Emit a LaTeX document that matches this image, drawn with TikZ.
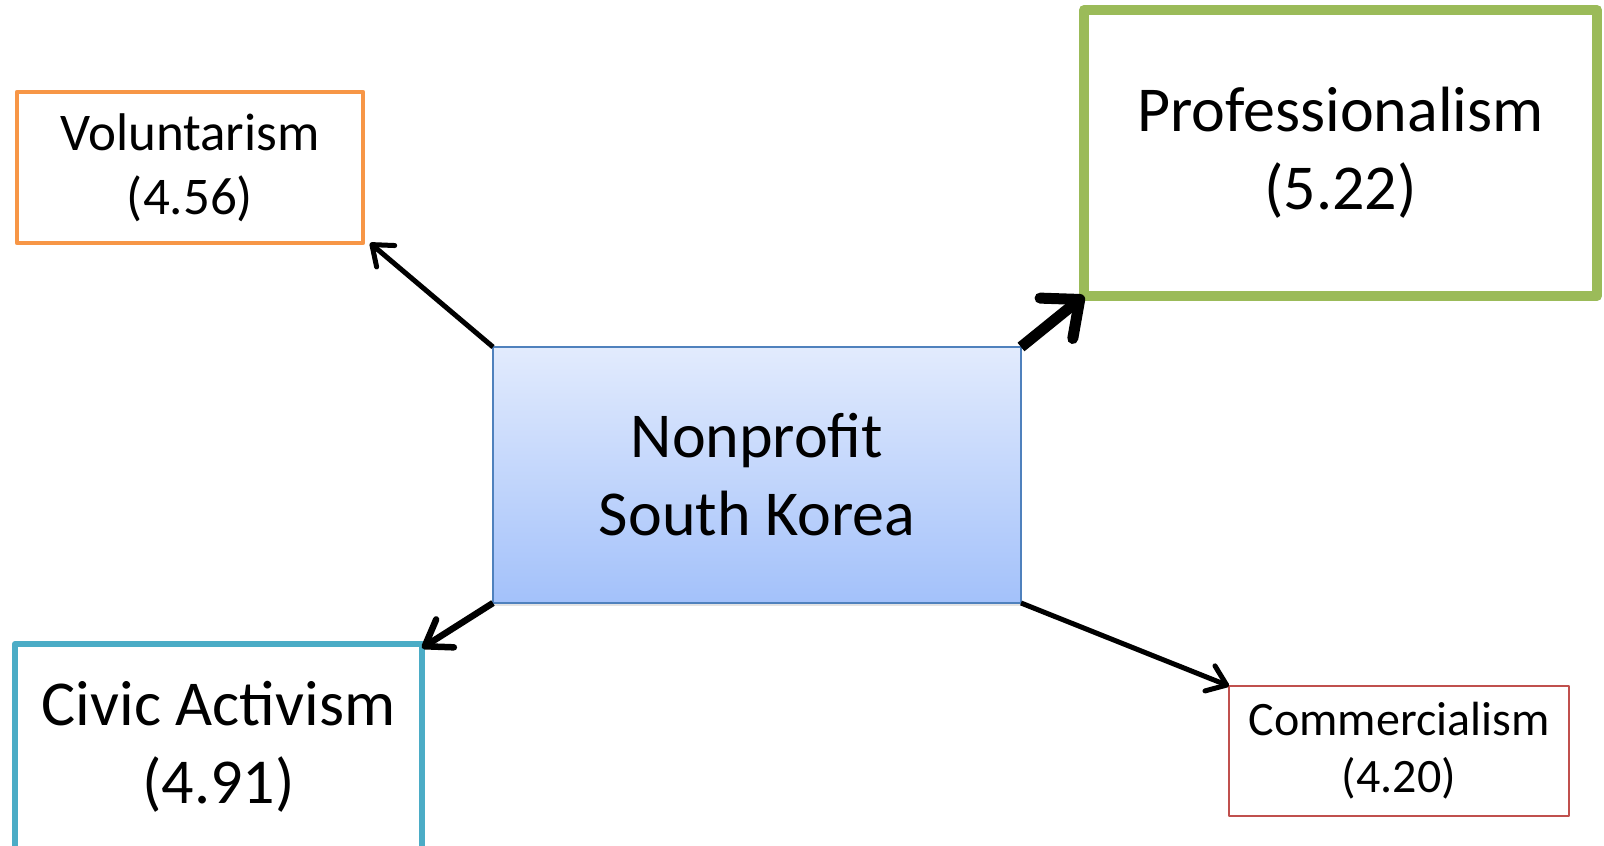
\documentclass[tikz,border=0pt]{standalone}
\usepackage{fontspec}
\setmainfont{Carlito}
\usetikzlibrary{arrows.meta,shadows}
\definecolor{volc}{HTML}{F79646}
\definecolor{profc}{HTML}{9BBB59}
\definecolor{civc}{HTML}{4BACC6}
\definecolor{comc}{HTML}{C0504D}
\definecolor{hubline}{HTML}{4F81BD}
\definecolor{hubtop}{HTML}{E2EBFD}
\definecolor{hubbot}{HTML}{A3C1FA}
\tikzset{
  box/.style={draw, rectangle, inner sep=0pt, outer sep=0pt, align=center,
    line join=round, fill=white},
  bigtext/.style={font=\fontsize{64}{78}\selectfont},
  midtext/.style={font=\fontsize{53}{64}\selectfont},
  smalltext/.style={font=\fontsize{48}{57}\selectfont},
  link/.style={draw=black, line cap=butt},
}
\begin{document}
\begin{tikzpicture}[x=1pt,y=1pt]
\useasboundingbox (0,0) rectangle (1604,846);

% central organisation box
\node[box, bigtext, draw=hubline, line width=2pt,
      top color=hubtop, bottom color=hubbot,
      drop shadow={opacity=0.22, shadow xshift=1pt, shadow yshift=-3pt},
      minimum width=528, minimum height=256] (hub) at (757,371)
      {Nonprofit\\South Korea};

% value orientation boxes
\node[box, midtext, draw=volc, line width=4.5pt,
      minimum width=346, minimum height=151] (vol) at (190,678.5)
      {Voluntarism\\(4.56)};
\node[box, bigtext, draw=profc, line width=10pt,
      minimum width=513, minimum height=286] (prof) at (1340.5,693)
      {Professionalism\\(5.22)};
\node[box, bigtext, draw=civc, line width=6pt,
      minimum width=407, minimum height=205] (civ) at (218.5,99.5)
      {Civic Activism\\(4.91)};
\node[box, smalltext, draw=comc, line width=2.5pt,
      minimum width=340, minimum height=130] (com) at (1399,95)
      {Commercialism\\(4.20)};

% connectors, weighted by score
\draw[link, line width=5pt, -{Straight Barb[round,length=18pt,width=28pt]}]
  (hub.north west) -- ([xshift=7pt]vol.south east);
\draw[link, line width=11pt, -{Straight Barb[round,length=30pt,width=52pt]}]
  (hub.north east) -- (prof.south west);
\draw[link, line width=6.5pt, -{Straight Barb[round,length=24pt,width=33pt]}]
  (hub.south west) -- ([yshift=-4pt]civ.north east);
\draw[link, line width=5pt, -{Straight Barb[round,length=18pt,width=27pt]}]
  (hub.south east) -- (com.north west);
\end{tikzpicture}
\end{document}
